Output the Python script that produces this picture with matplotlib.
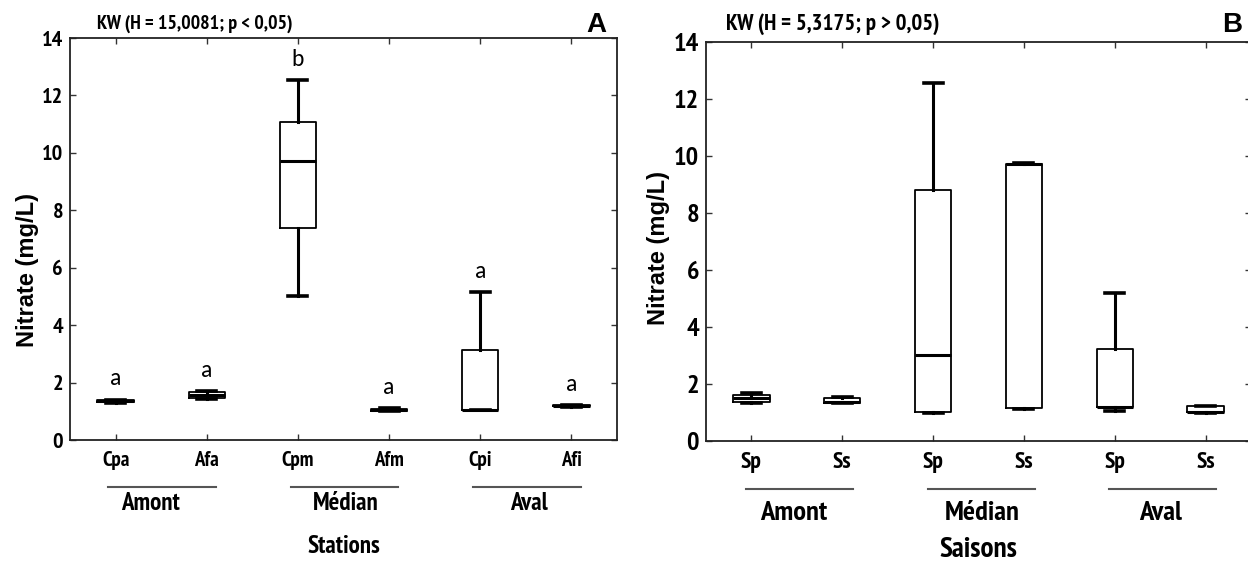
import matplotlib
matplotlib.use("Agg")
import matplotlib.pyplot as plt
from matplotlib import font_manager as fm
from matplotlib.transforms import blended_transform_factory

# ---------------- data ----------------
stations = ['Cpa', 'Afa', 'Cpm', 'Afm', 'Cpi', 'Afi']
A_whislo = [1.30, 1.43, 5.00, 1.00, 1.05, 1.15]
A_q1 = [1.33, 1.46, 7.37, 1.02, 1.05, 1.17]
A_med = [1.36, 1.56, 9.73, 1.05, 1.06, 1.19]
A_q3 = [1.38, 1.66, 11.09, 1.09, 3.13, 1.21]
A_whishi = [1.41, 1.70, 12.52, 1.12, 5.15, 1.22]
A_letters = ['a', 'a', 'b', 'a', 'a', 'a']

seasons = ['Sp', 'Ss', 'Sp', 'Ss', 'Sp', 'Ss']
B_whislo = [1.32, 1.33, 0.98, 1.13, 1.04, 0.98]
B_q1 = [1.36, 1.34, 1.00, 1.15, 1.18, 1.00]
B_med = [1.50, 1.36, 3.02, 9.72, 1.20, 1.03]
B_q3 = [1.61, 1.52, 8.80, 9.72, 3.21, 1.22]
B_whishi = [1.69, 1.55, 12.56, 9.74, 5.20, 1.24]

groups = ['Amont', 'Médian', 'Aval']
yticks = [0, 2, 4, 6, 8, 10, 12, 14]


# ---------------- fonts ----------------
def pick_bold(prefs):
    for name in prefs:
        for f in fm.fontManager.ttflist:
            if f.name == name and f.style == 'normal':
                w = f.weight if isinstance(f.weight, int) else {'bold': 700}.get(f.weight, 400)
                if 600 <= w <= 750:
                    return f.fname
    return None


NARROW_FILE = pick_bold(['Liberation Sans Narrow', 'Arial Narrow', 'Nimbus Sans Narrow',
                         'PT Sans Narrow', 'Roboto Condensed', 'Fira Sans Condensed',
                         'IBM Plex Sans Condensed', 'Encode Sans Condensed'])


def narrow(size):
    if NARROW_FILE:
        return fm.FontProperties(fname=NARROW_FILE, size=size)
    return fm.FontProperties(family=['Liberation Sans', 'DejaVu Sans'], weight='bold',
                             size=size * 0.85)


def arial(size):
    return fm.FontProperties(family=['Liberation Sans', 'DejaVu Sans'], weight='bold', size=size)


LETTER = fm.FontProperties(family=['Carlito', 'Open Sans', 'DejaVu Sans'], size=17)

fig = plt.figure(figsize=(12.48, 5.61), dpi=100)
axA = fig.add_axes([70/1248, 121/561, 547/1248, 402/561])
axB = fig.add_axes([706/1248, 120/561, 545/1248, 399.3/561])


def stats(labels, lo, q1, med, q3, hi):
    return [dict(label=l, whislo=a, q1=b, med=c, q3=d, whishi=e, fliers=[])
            for l, a, b, c, d, e in zip(labels, lo, q1, med, q3, hi)]


def draw(ax, st, labels, fs_y, fs_x):
    ax.bxp(st, positions=range(1, len(st) + 1), widths=0.40, showfliers=False,
           boxprops=dict(color='black', linewidth=1.3),
           whiskerprops=dict(color='black', linewidth=2.2),
           capprops=dict(color='black', linewidth=2.6),
           medianprops=dict(color='black', linewidth=2.2),
           capwidths=0.21)
    ax.set_xlim(0.5, 6.5)
    ax.set_ylim(0, 14)
    ax.set_yticks(yticks)
    ax.set_xticks(range(1, 7))
    ax.set_xticklabels(labels)
    for s in ax.spines.values():
        s.set_linewidth(1.3)
        s.set_color('#222222')
    ax.tick_params(direction='in', top=True, right=True, length=4, width=1,
                   color='#333333')
    ax.tick_params(axis='y', pad=5)
    ax.tick_params(axis='x', pad=8)
    for lab in ax.get_yticklabels():
        lab.set_fontproperties(narrow(fs_y))
    for lab in ax.get_xticklabels():
        lab.set_fontproperties(narrow(fs_x))


# layout offsets of the group captions (x, in category units)
A_group_dx = [-0.12, 0.03, 0.03]
B_group_dx = [-0.03, 0.04, 0.0]

# ---------------- panel A ----------------
stA = stats(stations, A_whislo, A_q1, A_med, A_q3, A_whishi)
draw(axA, stA, stations, 16, 15)
axA.text(-0.0786, 0.423, 'Nitrate (mg/L)', transform=axA.transAxes, rotation=90,
         ha='center', va='center', fontproperties=arial(17))
for i, (let, hi) in enumerate(zip(A_letters, A_whishi)):
    axA.text(i + 1, hi + 0.72, let, ha='center', va='center', fontproperties=LETTER)
trA = blended_transform_factory(axA.transData, axA.transAxes)
for i, g in enumerate(groups):
    axA.plot([2*i + 0.92, 2*i + 2.1], [-0.117, -0.117], transform=trA,
             color='#555555', lw=1.5, clip_on=False)
    axA.text(2*i + 1.5 + A_group_dx[i], -0.157, g, transform=trA, ha='center',
             va='center', fontproperties=narrow(18))
axA.text(0.5, -0.266, 'Stations', transform=axA.transAxes, ha='center',
         va='center', fontproperties=narrow(18))
axA.text(0.05, 1.035, 'KW (H = 15,0081; p < 0,05)', transform=axA.transAxes,
         ha='left', va='center', fontproperties=narrow(14.3))
axA.text(0.963, 1.032, 'A', transform=axA.transAxes, ha='center', va='center',
         fontproperties=arial(20))

# ---------------- panel B ----------------
stB = stats(seasons, B_whislo, B_q1, B_med, B_q3, B_whishi)
draw(axB, stB, seasons, 19, 17)
axB.text(-0.088, 0.484, 'Nitrate (mg/L)', transform=axB.transAxes, rotation=90,
         ha='center', va='center', fontproperties=arial(17))
trB = blended_transform_factory(axB.transData, axB.transAxes)
for i, g in enumerate(groups):
    axB.plot([2*i + 0.94, 2*i + 2.12], [-0.120, -0.120], transform=trB,
             color='#555555', lw=1.5, clip_on=False)
    axB.text(2*i + 1.5 + B_group_dx[i], -0.180, g, transform=trB, ha='center',
             va='center', fontproperties=narrow(20.5))
axB.text(0.5, -0.290, 'Saisons', transform=axB.transAxes, ha='center',
         va='baseline', fontproperties=narrow(21))
axB.text(0.037, 1.045, 'KW (H = 5,3175; p > 0,05)', transform=axB.transAxes,
         ha='left', va='center', fontproperties=narrow(16.5))
axB.text(0.965, 1.042, 'B', transform=axB.transAxes, ha='center', va='center',
         fontproperties=arial(20))

fig.savefig('out.png', dpi=100, facecolor='white')
